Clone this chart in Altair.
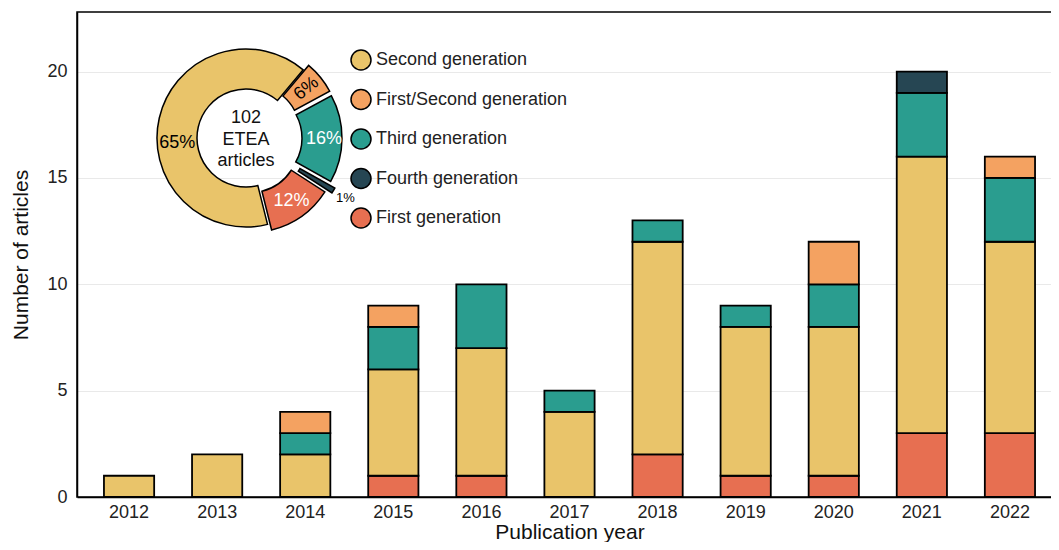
import math
import altair as alt
import pandas as pd

# ---------------- data ----------------
years = ["2012", "2013", "2014", "2015", "2016", "2017", "2018", "2019", "2020", "2021", "2022"]
first_gen = [0, 0, 0, 1, 1, 0, 2, 1, 1, 3, 3]
second_gen = [1, 2, 2, 5, 6, 4, 10, 7, 7, 13, 9]
third_gen = [0, 0, 1, 2, 3, 1, 1, 1, 2, 3, 3]
first_second_gen = [0, 0, 1, 1, 0, 0, 0, 0, 2, 0, 1]
fourth_gen = [0, 0, 0, 0, 0, 0, 0, 0, 0, 1, 0]

legend_order = ["Second generation", "First/Second generation", "Third generation",
                "Fourth generation", "First generation"]
palette = ["#E9C46A", "#F4A261", "#2A9D8F", "#264653", "#E76F51"]

# stacking order of the bars (bottom -> top)
bar_stack = ["First generation", "Second generation", "Third generation",
             "First/Second generation", "Fourth generation"]

# donut (clockwise from its start angle)
pie_gens = ["First/Second generation", "Third generation", "Fourth generation",
            "First generation", "Second generation"]
pie_shares = [6, 16, 1, 12, 65]
center_text = ["102", "ETEA", "articles"]

# ---------------- tables ----------------
series = {
    "First generation": first_gen,
    "Second generation": second_gen,
    "Third generation": third_gen,
    "First/Second generation": first_second_gen,
    "Fourth generation": fourth_gen,
}
rows = []
for g, vals in series.items():
    for y, v in zip(years, vals):
        if v > 0:
            rows.append({"Year": y, "Generation": g, "Count": v, "ord": bar_stack.index(g)})
bar_df = pd.DataFrame(rows)

pie_df = pd.DataFrame({"Generation": pie_gens, "share": pie_shares,
                       "ord": list(range(len(pie_gens)))})

# ---------------- layout constants ----------------
W, H = 985, 485
CX, CY = 169, 126          # donut centre inside the plot area
R_IN, R_OUT = 49, 89
START = math.radians(40)
TOTAL = sum(pie_shares)
FONT = "Liberation Sans"

color = alt.Color(
    "Generation:N",
    scale=alt.Scale(domain=legend_order, range=palette),
    legend=alt.Legend(
        title=None, orient="none", legendX=273, legendY=37,
        symbolType="circle", symbolSize=400, symbolStrokeColor="black",
        symbolStrokeWidth=1.5, labelFontSize=18, labelFont=FONT, labelColor="#222",
        rowPadding=13.5, labelOffset=4, padding=0, labelLimit=0,
    ),
)

bars = alt.Chart(bar_df).mark_bar(stroke="black", strokeWidth=1.8).encode(
    x=alt.X("Year:O", sort=years,
            scale=alt.Scale(paddingInner=0.43, paddingOuter=0.306),
            axis=alt.Axis(title="Publication year", labelAngle=0, ticks=False,
                          labelPadding=6, titlePadding=0, grid=False)),
    y=alt.Y("Count:Q", stack="zero",
            scale=alt.Scale(domain=[0, 22.8], nice=False),
            axis=alt.Axis(title="Number of articles", values=[0, 5, 10, 15, 20],
                          ticks=False, labelPadding=10, titlePadding=15,
                          grid=True, gridColor="#e9e9e9", gridWidth=1)),
    color=color,
    order=alt.Order("ord:Q", sort="ascending"),
)

donut_base = alt.Chart(pie_df).transform_window(
    cum="sum(share)", sort=[alt.SortField("ord")], frame=[None, 0]
).transform_calculate(
    t0="datum.cum - datum.share",
    t1="datum.cum",
    mid=f"{START} + 2*PI*(datum.cum - datum.share/2)/{TOTAL}",
    d="datum.Generation == 'Second generation' ? 0 : (datum.share < 3 ? 13 : 7)",
).transform_calculate(
    cx=f"{CX} + datum.d*sin(datum.mid)",
    cy=f"{CY} - datum.d*cos(datum.mid)",
    lmid="datum.Generation == 'Second generation' ? datum.mid - 0.3 : datum.mid",
    rl=f"datum.share < 3 ? 116 : (datum.d == 0 ? {(R_IN + R_OUT) / 2} : {(R_IN + R_OUT) / 2 + 2} + datum.d)",
    label="datum.share + '%'",
    rot="datum.Generation == 'First/Second generation' ? (datum.mid*180/PI + 270) % 360 : 0",
    tcol="(datum.Generation == 'Third generation' || datum.Generation == 'First generation') ? 'white' : 'black'",
    fsize="datum.share < 3 ? 13 : 18",
).transform_calculate(
    lx=f"{CX} + datum.rl*sin(datum.lmid)",
    ly=f"{CY} - datum.rl*cos(datum.lmid)",
)

arcs = donut_base.mark_arc(innerRadius=R_IN, outerRadius=R_OUT,
                           stroke="black", strokeWidth=1.5).encode(
    theta=alt.Theta("t0:Q", scale=alt.Scale(domain=[0, TOTAL], range=[START, START + 2 * math.pi], nice=False, zero=True)),
    theta2="t1:Q",
    color=color,
    x=alt.X("cx:Q", scale=None, axis=None),
    y=alt.Y("cy:Q", scale=None, axis=None),
)

labels = donut_base.mark_text(font=FONT, align="center", baseline="middle").encode(
    x=alt.X("lx:Q", scale=None, axis=None),
    y=alt.Y("ly:Q", scale=None, axis=None),
    text="label:N",
    angle=alt.Angle("rot:Q", scale=None),
    color=alt.Color("tcol:N", scale=None),
    size=alt.Size("fsize:Q", scale=None),
)

centre = alt.Chart(pd.DataFrame({"t": [center_text]})).mark_text(
    font=FONT, fontSize=18, lineHeight=21.5, align="center", baseline="middle", color="#111"
).encode(
    x=alt.value(CX), y=alt.value(CY - 20), text="t"
)

chart = alt.layer(bars, arcs, labels, centre).resolve_scale(
    x="independent", y="independent"
).properties(
    width=W, height=H,
    autosize=alt.AutoSizeParams(type="none"),
    padding={"left": 69, "top": 4, "right": -11, "bottom": 45},
).configure_view(
    stroke="black", strokeWidth=1.5
).configure_axis(
    domainColor="black", domainWidth=1.5,
    labelFont=FONT, labelFontSize=18, labelColor="#222",
    titleFont=FONT, titleFontSize=21, titleColor="#111", titleFontWeight="normal",
)

chart.save("out.html", embed_options={"renderer": "svg", "actions": False})
